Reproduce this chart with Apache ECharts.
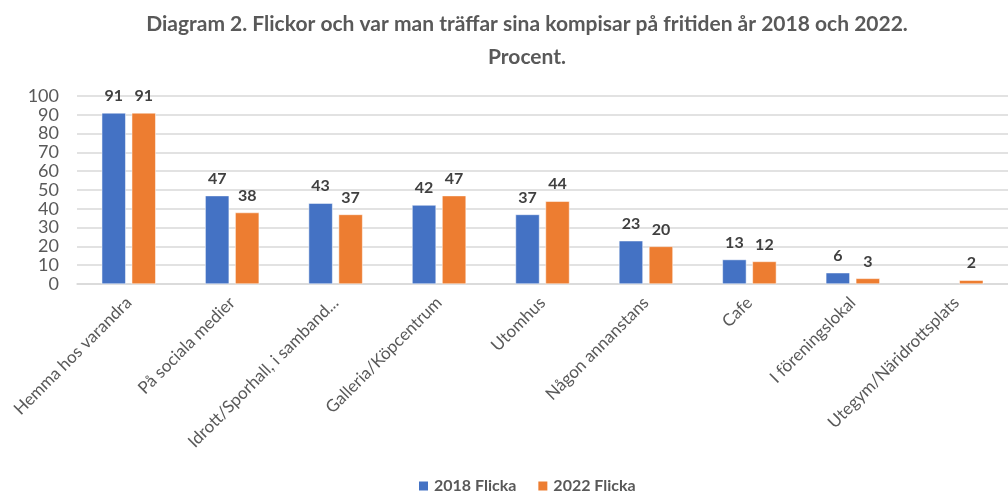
<!DOCTYPE html>
<html>
<head>
<meta charset="utf-8">
<script src="https://cdn.jsdelivr.net/npm/echarts@6/dist/echarts.min.js"></script>
<style>
  html, body { margin: 0; padding: 0; background: #fff; }
  #chart { width: 1008px; height: 496px; }
</style>
</head>
<body>
<div id="chart"></div>
<script>
// Meeting places for girls, 2018 vs 2022 (percent)
const categories = [
  'Hemma hos varandra',
  'På sociala medier',
  'Idrott/Sporhall, i samband...',
  'Galleria/Köpcentrum',
  'Utomhus',
  'Någon annanstans',
  'Cafe',
  'I föreningslokal',
  'Utegym/Näridrottsplats'
];
const flicka2018 = [91, 47, 43, 42, 37, 23, 13, 6, null];
const flicka2022 = [91, 38, 37, 47, 44, 20, 12, 3, 2];
const seriesNames = ['2018 Flicka', '2022 Flicka'];
const yTicks = { min: 0, max: 100, interval: 10 };

const FONT = 'Lato, "Open Sans", sans-serif';
const GREY = '#595959';

const labelStyle = {
  show: true,
  position: 'top',
  distance: 9,
  fontFamily: FONT,
  fontWeight: 'bold',
  fontSize: 16,
  color: '#404040'
};

const chart = echarts.init(document.getElementById('chart'), null, { renderer: 'canvas' });
chart.setOption({
  animation: false,
  backgroundColor: '#ffffff',
  title: {
    text: 'Diagram 2. Flickor och var man träffar sina kompisar på fritiden år 2018 och 2022.\nProcent.',
    left: 522,
    top: 3,
    textAlign: 'center',
    textStyle: {
      fontFamily: FONT,
      fontWeight: 'bold',
      fontSize: 21,
      lineHeight: 33,
      color: GREY
    }
  },
  legend: {
    data: seriesNames,
    bottom: -3,
    left: 412,
    itemWidth: 11,
    itemHeight: 11,
    itemGap: 20,
    icon: 'rect',
    textStyle: { fontFamily: FONT, fontWeight: 'bold', fontSize: 16, color: GREY }
  },
  grid: { left: 77, top: 96, width: 936, height: 188, containLabel: false },
  xAxis: {
    type: 'category',
    data: categories,
    axisLine: { show: true, lineStyle: { color: '#d9d9d9', width: 1.5 } },
    axisTick: { show: false },
    axisLabel: {
      rotate: 45,
      interval: 0,
      margin: 16,
      fontFamily: FONT,
      fontSize: 17,
      color: GREY
    }
  },
  yAxis: {
    type: 'value',
    min: yTicks.min,
    max: yTicks.max,
    interval: yTicks.interval,
    axisLine: { show: false },
    axisTick: { show: false },
    splitLine: { lineStyle: { color: '#d9d9d9', width: 1.5 } },
    axisLabel: {
      margin: 18,
      fontFamily: FONT,
      fontSize: 18,
      color: GREY
    }
  },
  series: [
    {
      name: seriesNames[0],
      type: 'bar',
      data: flicka2018,
      barWidth: 24,
      barGap: '25%',
      itemStyle: { color: '#4472C4', borderColor: '#ffffff', borderWidth: 0.5 },
      label: labelStyle
    },
    {
      name: seriesNames[1],
      type: 'bar',
      data: flicka2022,
      barWidth: 24,
      itemStyle: { color: '#ED7D31', borderColor: '#ffffff', borderWidth: 0.5 },
      label: labelStyle
    }
  ]
});
</script>
</body>
</html>
